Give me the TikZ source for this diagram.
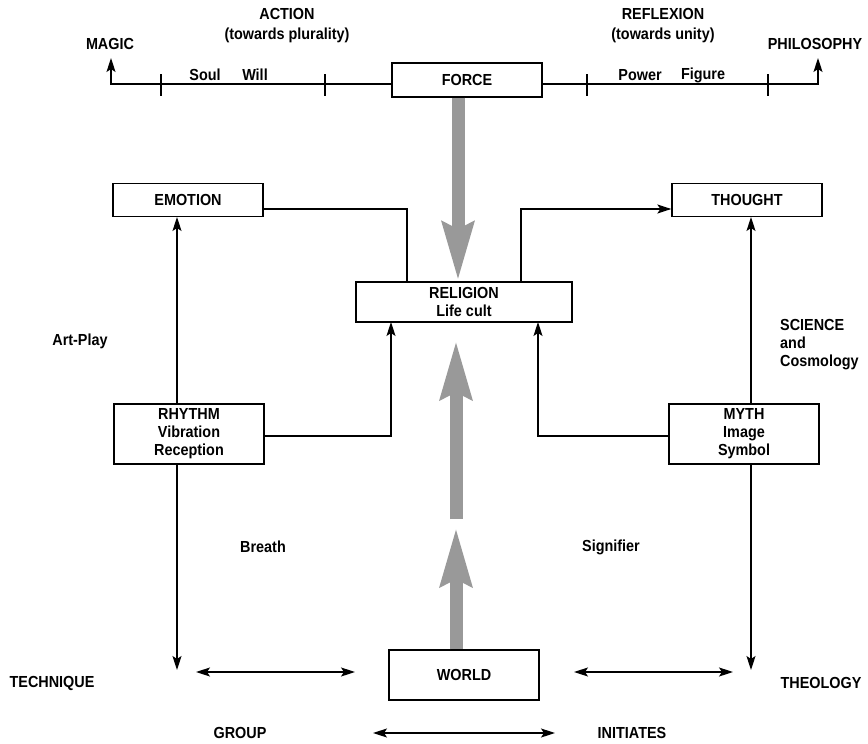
\documentclass[tikz,border=0pt]{standalone}
\usepackage{fontspec}
\setmainfont{Liberation Sans}[FakeStretch=0.9]
\usetikzlibrary{arrows.meta}
\begin{document}
\begin{tikzpicture}[x=1pt,y=-1pt,
  every node/.style={font=\fontsize{16}{19}\selectfont\bfseries, inner sep=0pt},
  box/.style={draw, line width=1.3pt, minimum height=34pt, minimum width=150pt, align=center},
  lbl/.style={align=center},
  ln/.style={line width=1.3pt},
  tip/.style={},
  arr/.style={line width=1.3pt, -{Stealth[length=14pt,width=9pt,inset=3pt]}},
  darr/.style={line width=1.3pt, {Stealth[length=14pt,width=9pt,inset=3pt]}-{Stealth[length=14pt,width=9pt,inset=3pt]}},
  big/.style={line width=13pt, draw=black!40, -{Stealth[length=58pt,width=30pt,inset=6pt]}}
]
\useasboundingbox (0,0) rectangle (868,744);
\fill[white] (0,0) rectangle (868,744);

% top nodes
\node[box] (force) at (467,80) {FORCE};
\node[lbl] (magic) at (110,44) {MAGIC};
\node[lbl] (philo) at (815,44) {PHILOSOPHY};
\node[lbl] (action) at (287,26) {ACTION\\[1pt](towards plurality)};
\node[lbl] (reflex) at (663,26) {REFLEXION\\[1pt](towards unity)};
\node (soul) at (205,75) {Soul};
\node (will) at (255,75) {Will};
\node (power) at (640,75) {Power};
\node (figure) at (703,75) {Figure};

\coordinate (lc) at (111,84);
\coordinate (rc) at (818,84);
\draw[arr] ([yshift=-4pt]force.west) -- (lc) -- ++(0,-26);
\draw[arr] ([yshift=-4pt]force.east) -- (rc) -- ++(0,-26);
\foreach \x in {161,325,587,768} \draw[ln] (\x,74) -- (\x,96);

% middle boxes
\node[box, minimum height=33pt] (emotion) at (188,200) {EMOTION};
\node[box, minimum height=33pt] (thought) at (747,200) {THOUGHT};
\node[box, minimum width=216pt, minimum height=40pt] (religion) at (464,302) {RELIGION\\[-1pt]Life cult};
\node[box, minimum height=60pt] (rhythm) at (189,434) {RHYTHM\\[-1pt]Vibration\\[-1pt]Reception};
\node[box, minimum height=60pt] (myth) at (744,434) {MYTH\\[-1pt]Image\\[-1pt]Symbol};
\node[box, minimum height=50pt] (world) at (464,675) {WORLD};

% side labels
\node (artplay) at (80,341) {Art-Play};
\node[align=left, anchor=west] (science) at (780,345) {SCIENCE\\[-1pt]and\\[-1pt]Cosmology};
\node (breath) at (263,547) {Breath};
\node (signif) at (611,547) {Signifier};
\node (technique) at (52,683) {TECHNIQUE};
\node (theology) at (821,683) {THEOLOGY};
\node (group) at (240,733) {GROUP};
\node (initiates) at (632,733) {INITIATES};

% connectors to religion
\draw[ln] (emotion.east |- 0,209) -- (407,209) -- (407,282);
\draw[arr] (521,282) -- (521,209) -- (thought.west |- 0,209);
\draw[arr] (rhythm.east |- 0,436) -- (391,436) -- (391,322);
\draw[arr] (myth.west |- 0,436) -- (538,436) -- (538,322);

% verticals
\draw[arr] (177,404) -- (177,217);
\draw[arr] (751,404) -- (751,217);
\coordinate (ldown) at (177,670);
\coordinate (rdown) at (751,670);
\draw[arr] (177,464) -- (ldown);
\draw[arr] (751,464) -- (rdown);

% double arrows
\coordinate (a1) at (196,672); \coordinate (a2) at (355,672);
\coordinate (b1) at (574,672); \coordinate (b2) at (733,672);
\coordinate (c1) at (373,733); \coordinate (c2) at (555,733);
\draw[darr] (a1) -- (a2);
\draw[darr] (b1) -- (b2);
\draw[darr] (c1) -- (c2);

% big gray arrows
\coordinate (mid) at (456,519);
\coordinate (midtip) at (456,340);
\coordinate (lowtip) at (456,527);
\draw[big] (force.south -| 458,0) -- (religion.north -| 458,0);
\draw[big] (mid) -- (midtip);
\draw[big] (world.north -| 456,0) -- (lowtip);
\end{tikzpicture}
\end{document}
